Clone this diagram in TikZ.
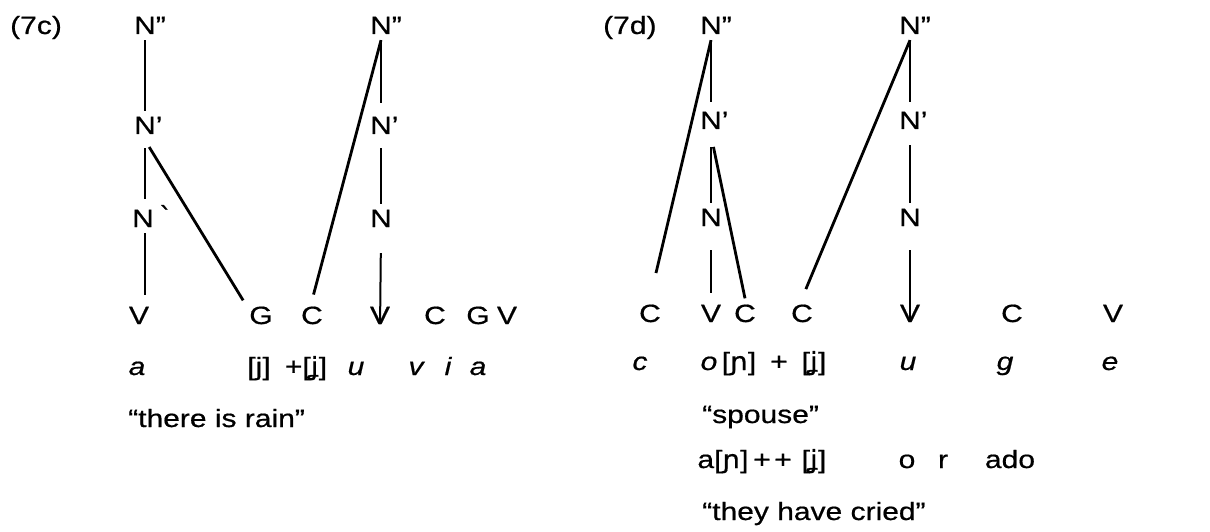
\documentclass[tikz,border=0pt]{standalone}
\usepackage{fontspec}
\setmainfont{Liberation Sans}[FakeStretch=1.2, FakeBold=0.6]
\newfontfamily\ipafont{DejaVu Sans}[FakeStretch=1.1, FakeBold=0.6]
\newcommand{\ipa}[1]{{\ipafont #1}}
\usetikzlibrary{calc}

\begin{document}
\begin{tikzpicture}[x=1pt, y=-1pt,
		lbl/.style={font=\fontsize{25}{30}\selectfont, inner sep=6pt, anchor=base},
		seg/.style={font=\fontsize{25}{30}\selectfont, inner sep=0pt, anchor=base},
		orth/.style={font=\fontsize{25}{30}\selectfont\itshape, inner sep=0pt, anchor=base},
		gloss/.style={font=\fontsize{25}{30}\selectfont, inner sep=0pt, anchor=base west},
		stem/.style={line width=2pt},
		thinstem/.style={line width=1.2pt},
		branch/.style={line width=2.8pt}]
		%%%%% START %%%%%
		
		\useasboundingbox (0,0) rectangle (1210,532);
		
		% (7c)
		\node[gloss] (tagc) at (10,34) {(7c)};
		
		\node[lbl] (n2a) at (145,34) {N\rlap{”}};
		\node[lbl] (n1a) at (145,134) {N\rlap{'}};
		\node[lbl] (n0a) at (143,227) {N\rlap{\hspace{5pt}\raisebox{2pt}{\ipa{ˋ}}}};
		\node[lbl] (n2b) at (381,34) {N\rlap{”}};
		\node[lbl] (n1b) at (381,134) {N\rlap{'}};
		\node[lbl] (n0b) at (381,227) {N};
		
		\node[lbl] (va) at (139,324) {V};
		\node[lbl] (ga) at (261,324) {G};
		\node[lbl] (ca) at (312,324) {C};
		\node[lbl] (vb) at (380,324) {V};
		\node[lbl] (cb) at (435,324) {C};
		\node[lbl] (gb) at (478,324) {G};
		\node[lbl] (vc) at (507,324) {V};
		
		\draw[stem] (n2a.south) -- (n1a.north);
		\draw[stem, shorten <=8pt] (n1a.south) -- (n1a.south |- n0a.north);
		\draw[stem, shorten >=6pt] (n1a.south |- n0a.south) -- (n1a.south |- va.north);
		\draw[branch, shorten <=8pt] (n1a.south) -- (ga.north west);
		
		\draw[stem, shorten >=8pt] (n2b.south) -- (n1b.north);
		\draw[stem, shorten <=8pt] (n1b.south) -- (n0b.north);
		\draw[stem, shorten <=20pt, shorten >=6pt] (n0b.south) -- (vb.south);
		\draw[branch, shorten >=6pt] (n2b.south) -- (ca.north);
		
		\node[orth] (wa) at (137,375) {a};
		\node[seg] (sja) at (259,375) {[j]};
		\node[seg] (sjb) at (306,375) {+[\ipa{ʝ}]};
		\node[orth] (wu) at (356,375) {u};
		\node[orth] (wv) at (416,375) {v};
		\node[orth] (wi) at (448,375) {i};
		\node[orth] (wb) at (478,375) {a};
		
		\node[gloss] (rain) at (128,427) {“there is rain”};
		
		% (7d)
		\node[gloss] (tagd) at (603,34) {(7d)};
		
		\node[lbl] (n2c) at (711,34) {N\rlap{”}};
		\node[lbl] (n1c) at (711,129) {N\rlap{'}};
		\node[lbl] (n0c) at (711,226) {N};
		\node[lbl] (n2d) at (910,34) {N\rlap{”}};
		\node[lbl] (n1d) at (910,129) {N\rlap{'}};
		\node[lbl] (n0d) at (910,226) {N};
		
		\node[lbl] (cd) at (650,322) {C};
		\node[lbl] (vd) at (711,322) {V};
		\node[lbl] (ce) at (745,322) {C};
		\node[lbl] (cf) at (802,322) {C};
		\node[lbl] (ve) at (910,322) {V};
		\node[lbl] (cg) at (1012,322) {C};
		\node[lbl] (vf) at (1113,322) {V};
		
		\draw[thinstem, shorten >=4pt] (n2c.south) -- (n1c.north);
		\draw[thinstem, shorten <=12pt] (n1c.south) -- (n0c.north);
		\draw[thinstem, shorten <=18pt, shorten >=6pt] (n0c.south) -- (vd.north);
		\draw[branch, shorten >=26pt] (n2c.south) -- (cd.north);
		\draw[branch, shorten <=12pt] (n1c.south) -- (ce.north);
		
		\draw[thinstem, shorten >=4pt] (n2d.south) -- (n1d.north);
		\draw[thinstem, shorten <=10pt] (n1d.south) -- (n0d.north);
		\draw[thinstem, shorten <=18pt, shorten >=6pt] (n0d.south) -- (ve.south);
		\draw[branch, shorten >=10pt] (n2d.south) -- (cf.north);
		
		\node[orth] (wc) at (640,370) {c};
		\node[orth] (wo) at (709,370) {o};
		\node[seg] (sn) at (739,370) {[\ipa{ɲ}]};
		\node[seg] (pl) at (779,370) {+};
		\node[seg] (sjc) at (814,370) {[\ipa{ʝ}]};
		\node[orth] (wub) at (908,370) {u};
		\node[orth] (wg) at (1005,370) {g};
		\node[orth] (we) at (1110,370) {e};
		
		\node[gloss] (spouse) at (702,423) {“spouse”};
		
		\node[seg] (an) at (723,468) {a[\ipa{ɲ}]};
		\node[seg] (pla) at (762,468) {+};
		\node[seg] (plb) at (783,468) {+};
		\node[seg] (sjd) at (814,468) {[\ipa{ʝ}]};
		\node[seg] (so) at (907,468) {o};
		\node[seg] (sr) at (943,468) {r};
		\node[seg] (sado) at (1010,468) {ado};
		
		\node[gloss] (cried) at (702,520) {“they have cried”};
		
		%%%%% END %%%%%
	\end{tikzpicture}
\end{document}
